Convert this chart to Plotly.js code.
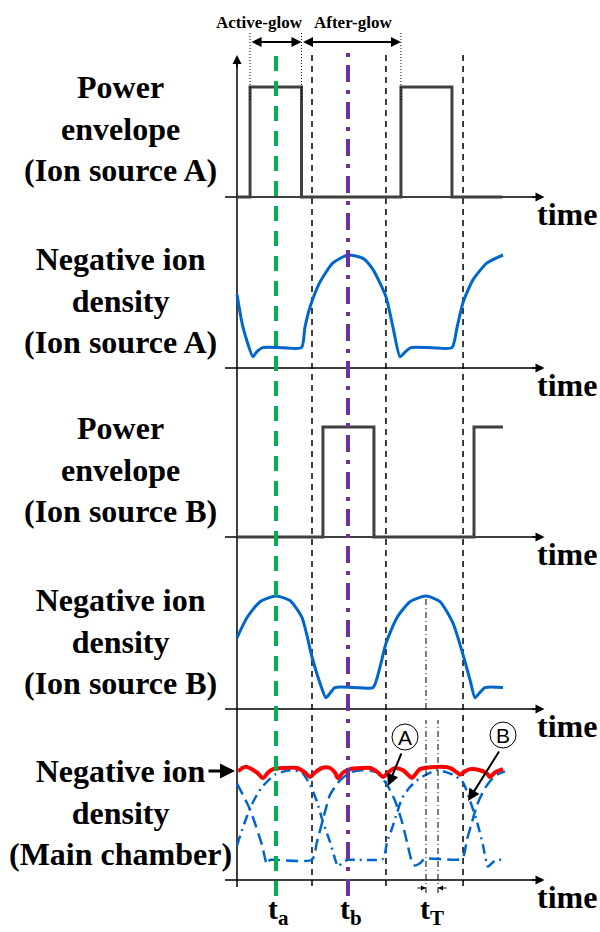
<!DOCTYPE html>
<html>
<head>
<meta charset="utf-8">
<script src="https://cdn.plot.ly/plotly-3.0.1.min.js"></script>
<style>
	html, body { margin: 0; padding: 0; background: #fff; }
	#plot { width: 600px; height: 932px; }
</style>
</head>
<body>
<div id="plot"></div>
<script>
(function () {

	'use strict';

	/**
	* Data - time in arbitrary units (one pulse period ~ 100)
	* levels normalised, 0 = off / baseline, 1 = on / peak
	*/
	const powerA_t = [0, 8.7, 43, 109.3, 143.3, 177];
	const powerA_v = [0, 1, 0, 1, 0, 0];

	const powerB_t = [0, 57.3, 91.3, 158, 177.3];
	const powerB_v = [0, 1, 0, 1, 1];

	// negative ion density, ion source A
	const densA_t = [0, 4, 10.7, 13, 17, 30, 43, 45.3, 48.7, 55.3, 64, 74, 84, 90.7, 99.3, 104, 108.7, 112, 116, 130, 143.3, 146.7, 150.7, 157.3, 166.7, 177.3];
	const densA_v = [0.65, 0.36, 0.10, 0.14, 0.18, 0.18, 0.18, 0.36, 0.54, 0.76, 0.93, 1.0, 0.97, 0.87, 0.63, 0.36, 0.10, 0.14, 0.18, 0.18, 0.18, 0.36, 0.58, 0.78, 0.93, 1.0];

	// negative ion density, ion source B
	const densB_t = [0, 6.7, 15.3, 26, 35.3, 43.3, 50, 55.3, 59.3, 62, 65.3, 78, 90.7, 95.3, 99.3, 106.7, 115.3, 126, 135.3, 144, 150.7, 155.3, 158.7, 161.5, 165.3, 177.3];
	const densB_v = [0.63, 0.81, 0.95, 1.0, 0.96, 0.81, 0.46, 0.23, 0.10, 0.14, 0.19, 0.19, 0.19, 0.37, 0.58, 0.81, 0.95, 1.0, 0.95, 0.76, 0.48, 0.26, 0.10, 0.14, 0.19, 0.19];

	// main chamber: contribution from A (delayed)
	const mainA_t = [0, 8.7, 16.7, 20, 22, 25.3, 50, 53.3, 58.7, 62, 68.7, 75.3, 83.3, 93.3, 100, 105.3, 110, 113.3, 116.7, 118.7, 122, 125.3, 150, 153.3, 156.7, 160, 165.3, 172, 178.7];
	const mainA_v = [0.86, 0.63, 0.31, 0.14, 0.18, 0.18, 0.18, 0.34, 0.61, 0.76, 0.89, 0.96, 0.98, 0.96, 0.85, 0.71, 0.52, 0.34, 0.16, 0.13, 0.15, 0.19, 0.19, 0.36, 0.52, 0.67, 0.82, 0.93, 0.97];

	// main chamber: contribution from B (delayed)
	const mainB_t = [0, 5.3, 8.7, 12, 16.7, 25.3, 35.3, 43.3, 48.7, 53.3, 57.3, 62, 66, 67.3, 70.7, 74, 97.3, 100, 103.3, 106.7, 110, 115.3, 122, 133.3, 144, 150.7, 155.3, 160, 164, 167.3, 170.7, 174, 178.7];
	const mainB_v = [0.31, 0.52, 0.64, 0.73, 0.83, 0.94, 0.98, 0.96, 0.85, 0.70, 0.52, 0.34, 0.16, 0.12, 0.16, 0.18, 0.19, 0.34, 0.46, 0.60, 0.73, 0.83, 0.91, 0.98, 0.94, 0.87, 0.71, 0.52, 0.31, 0.12, 0.16, 0.18, 0.18];

	// main chamber total
	const mainSum_t = [0.7, 5.3, 13.3, 17.3, 20.7, 24, 30.7, 40, 45.3, 48.7, 52, 56.7, 62, 65.3, 67.3, 70.7, 75.3, 84, 88.7, 94, 97.3, 100.7, 105.3, 110.7, 114, 116.7, 118.7, 122, 133.3, 142, 146.7, 148.7, 152, 155.3, 162, 166.7, 168.7, 172, 177.3];
	const mainSum_v = [0.97, 1.01, 0.96, 0.91, 0.96, 0.99, 1.0, 1.0, 0.96, 0.92, 0.96, 1.0, 1.0, 0.96, 0.91, 0.96, 0.99, 1.0, 1.0, 0.96, 0.92, 0.96, 1.0, 0.98, 0.94, 0.91, 0.94, 0.99, 1.01, 1.0, 0.96, 0.94, 0.97, 0.99, 0.98, 0.95, 0.92, 0.96, 0.99];

	// marker times
	const t_a = 26;
	const t_b = 74;
	const sectionTimes = [50, 99.3, 150.7];
	const transitTimes = [126, 134];

	const sideLabels = [
		'Power<br>envelope<br>(Ion source A)',
		'Negative ion<br>density<br>(Ion source A)',
		'Power<br>envelope<br>(Ion source B)',
		'Negative ion<br>density<br>(Ion source B)',
		'Negative ion<br>density<br>(Main chamber)',
	];

	/**
	* Layout helpers (page is 600 x 932, no margins)
	*/
	const W = 600, H = 932;
	const pY = px => 1 - px / H;
	const pX = px => px / W;

	// baseline pixel row + pixels per unit for each panel
	const panels = [
		{ base: 197, scale: 110, label: 128 },
		{ base: 368, scale: 113, label: 300 },
		{ base: 537, scale: 110, label: 469 },
		{ base: 709, scale: 113, label: 641 },
		{ base: 880, scale: 112, label: 812 },
	];
	const yLo = -0.15, yHi = 1.2;
	const yId = i => i === 0 ? 'y' : 'y' + (i + 1);

	const serif = 'Liberation Serif, Times New Roman, serif';
	const blue = '#0066cc';
	const grey = '#404040';

	const trace = ( t, v, panel, line ) => ({
		x: t,
		y: v,
		xaxis: 'x',
		yaxis: yId( panel ),
		type: 'scatter',
		mode: 'lines',
		hoverinfo: 'skip',
		line: line,
	});

	const data = [
		trace( powerA_t, powerA_v, 0, { color: grey, width: 3, shape: 'hv' }),
		trace( densA_t, densA_v, 1, { color: blue, width: 3, shape: 'spline', smoothing: 0.6 }),
		trace( powerB_t, powerB_v, 2, { color: grey, width: 3, shape: 'hv' }),
		trace( densB_t, densB_v, 3, { color: blue, width: 3, shape: 'spline', smoothing: 0.6 }),
		trace( mainA_t, mainA_v, 4, { color: blue, width: 2.5, shape: 'spline', smoothing: 0.6, dash: '12px,6px' }),
		trace( mainB_t, mainB_v, 4, { color: blue, width: 2.5, shape: 'spline', smoothing: 0.6, dash: '10px,5px,2px,5px' }),
		trace( mainSum_t, mainSum_v, 4, { color: '#ff0000', width: 4, shape: 'spline', smoothing: 0.8 }),
	];

	const layout = {
		width: W,
		height: H,
		margin: { l: 0, r: 0, t: 0, b: 0 },
		paper_bgcolor: '#fff',
		plot_bgcolor: '#fff',
		showlegend: false,
		xaxis: { domain: [0, 1], range: [-158, 242], visible: false, fixedrange: true },
		shapes: [],
		annotations: [],
	};

	const shapes = layout.shapes;
	const notes = layout.annotations;

	// plain text note, centred on a pixel position
	const textAt = ( px, py, text, font ) => notes.push({
		xref: 'paper', yref: 'paper', x: pX( px ), y: pY( py ),
		xanchor: 'center', yanchor: 'middle',
		text: text, showarrow: false, font: font,
	});

	const bigFont = { family: serif, size: 32, weight: 'bold', color: '#000' };

	// y axes, axis lines, "time" labels, side labels
	panels.forEach(( p, i ) => {
		layout[ i === 0 ? 'yaxis' : 'yaxis' + (i + 1) ] = {
			domain: [ pY( p.base - yLo * p.scale ), pY( p.base - yHi * p.scale ) ],
			range: [ yLo, yHi ],
			visible: false,
			fixedrange: true,
		};

		shapes.push({
			type: 'line', xref: 'x', yref: yId(i),
			x0: -8, x1: 203, y0: 0, y1: 0,
			line: { color: '#000', width: 1.5 },
			layer: 'below',
		});
		notes.push({
			xref: 'x', yref: yId(i), x: 205, y: 0,
			ax: -14, ay: 0, text: '', showarrow: true,
			arrowhead: 2, arrowsize: 1.2, arrowwidth: 1.5, arrowcolor: '#000',
		});
		textAt( 567, p.base + 17, 'time', bigFont );
		textAt( 120, p.label, sideLabels[i], bigFont );
	});

	// vertical axis
	shapes.push({
		type: 'line', xref: 'x', yref: 'paper',
		x0: 0, x1: 0, y0: pY(887), y1: pY(62),
		line: { color: '#000', width: 1.5 }, layer: 'below',
	});
	notes.push({
		xref: 'x', yref: 'paper', x: 0, y: pY(55),
		ax: 0, ay: 14, text: '', showarrow: true,
		arrowhead: 2, arrowsize: 1.2, arrowwidth: 1.5, arrowcolor: '#000',
	});

	// boundaries (black dashed)
	sectionTimes.forEach( t => shapes.push({
		type: 'line', xref: 'x', yref: 'paper',
		x0: t, x1: t, y0: pY(886), y1: pY(52),
		line: { color: '#000', width: 1.5, dash: '6px,5px' }, layer: 'below',
	}));

	// dotted guides at pulse edges of source A
	[ powerA_t[1], powerA_t[2], powerA_t[3] ].forEach( t => shapes.push({
		type: 'line', xref: 'x', yref: 'paper',
		x0: t, x1: t, y0: pY(100), y1: pY(33),
		line: { color: '#000', width: 1, dash: '1px,2px' },
	}));

	// transit time lines (thin dash-dot)
	shapes.push({
		type: 'line', xref: 'x', yref: 'paper',
		x0: transitTimes[0], x1: transitTimes[0], y0: pY(709), y1: pY(597),
		line: { color: '#000', width: 1, dash: '6px,3px,1px,3px' },
	});
	transitTimes.forEach( t => shapes.push({
		type: 'line', xref: 'x', yref: 'paper',
		x0: t, x1: t, y0: pY(893), y1: pY(720),
		line: { color: '#000', width: 1, dash: '6px,3px,1px,3px' },
	}));

	// t_a and t_b
	shapes.push({
		type: 'line', xref: 'x', yref: 'paper',
		x0: t_a, x1: t_a, y0: pY(896), y1: pY(50),
		line: { color: '#00b050', width: 4, dash: '15px,10px' },
	});
	shapes.push({
		type: 'line', xref: 'x', yref: 'paper',
		x0: t_b, x1: t_b, y0: pY(896), y1: pY(52),
		line: { color: '#7030a0', width: 4, dash: '17px,8px,4px,8px' },
	});

	// Active-glow / After-glow double arrows
	[ [ powerA_t[1], powerA_t[2] ], [ powerA_t[2], powerA_t[3] ] ].forEach( pair => notes.push({
		xref: 'x', yref: 'paper', x: pair[1], y: pY(42),
		axref: 'x', ayref: 'pixel', ax: pair[0], ay: 0,
		text: '', showarrow: true, arrowside: 'end+start',
		arrowhead: 2, arrowsize: 1, arrowwidth: 2, arrowcolor: '#000',
	}));

	const topFont = { family: serif, size: 17, weight: 'bold', color: '#000' };
	textAt( 259, 22, 'Active-glow', topFont );
	textAt( 353, 22, 'After-glow', topFont );

	// bottom marker labels
	const markFont = { family: serif, size: 30, weight: 'bold', color: '#000' };
	textAt( 278, 911, 't<sub>a</sub>', markFont );
	textAt( 351, 911, 't<sub>b</sub>', markFont );
	textAt( 432, 911, 't<sub>T</sub>', markFont );

	// transit time small arrows
	notes.push({ xref: 'x', yref: 'paper', x: transitTimes[0], y: pY(888), ax: -10, ay: 0, text: '', showarrow: true, arrowhead: 2, arrowsize: 1, arrowwidth: 1, arrowcolor: '#000' });
	notes.push({ xref: 'x', yref: 'paper', x: transitTimes[1], y: pY(888), ax: 10, ay: 0, text: '', showarrow: true, arrowhead: 2, arrowsize: 1, arrowwidth: 1, arrowcolor: '#000' });

	// arrow pointing to the main chamber total
	notes.push({ xref: 'paper', yref: 'paper', x: pX(235), y: pY(771), ax: -28, ay: 0, text: '', showarrow: true, arrowhead: 2, arrowsize: 1, arrowwidth: 3, arrowcolor: '#000' });

	// circled A / B callouts
	const circFont = { family: 'Liberation Sans, Arial, sans-serif', size: 21, color: '#000' };
	[ [ 405, 737, 'A', 388, 786 ], [ 503, 735, 'B', 468, 801 ] ].forEach( c => {
		shapes.push({
			type: 'circle', xref: 'paper', yref: 'paper',
			x0: pX( c[0] - 13 ), x1: pX( c[0] + 13 ), y0: pY( c[1] + 13 ), y1: pY( c[1] - 13 ),
			line: { color: '#000', width: 1 }, fillcolor: '#fff',
		});
		textAt( c[0], c[1], c[2], circFont );
		notes.push({
			xref: 'paper', yref: 'paper', x: pX( c[3] ), y: pY( c[4] ),
			ax: (c[0] - 3) - c[3], ay: (c[1] + 15) - c[4],
			text: '', showarrow: true, arrowhead: 2, arrowsize: 1.2, arrowwidth: 2, arrowcolor: '#000',
		});
	});

	Plotly.newPlot( 'plot', data, layout, { displayModeBar: false, staticPlot: true });

})();
</script>
</body>
</html>
